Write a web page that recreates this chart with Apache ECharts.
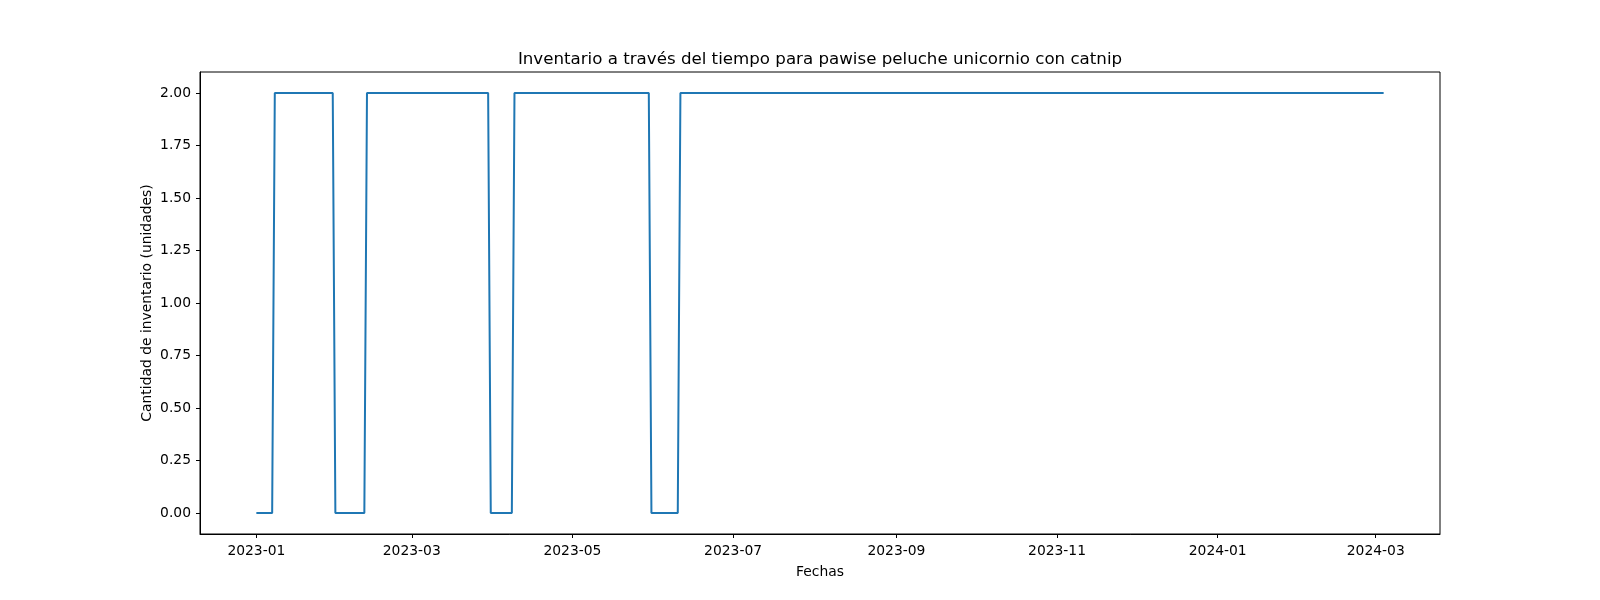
<!DOCTYPE html>
<html>
<head>
<meta charset="utf-8">
<script src="https://cdn.jsdelivr.net/npm/echarts@6/dist/echarts.min.js"></script>
<style>
html,body{margin:0;padding:0;background:#fff;}
#chart{width:1600px;height:600px;}
</style>
</head>
<body>
<div id="chart"></div>
<script>
// Breakpoints of the inventory series (date, units)
var dates = ['2023-01-01','2023-01-07','2023-01-08','2023-01-30','2023-01-31','2023-02-11','2023-02-12',
             '2023-03-30','2023-03-31','2023-04-08','2023-04-09','2023-05-30','2023-05-31','2023-06-10',
             '2023-06-11','2024-03-04'];
var values = [0,0,2,2,0,0,2,2,0,0,2,2,0,0,2,2];
var xTickLabels = ['2023-01','2023-03','2023-05','2023-07','2023-09','2023-11','2024-01','2024-03'];
var yTicks = [0,0.25,0.5,0.75,1,1.25,1.5,1.75,2];

function ts(s){ var p = s.split('-').map(Number); return Date.UTC(p[0], p[1]-1, p[2] || 1); }

var seriesData = dates.map(function(d,i){ return [ts(d), values[i]]; });
var xTickVals = xTickLabels.map(function(s){ return ts(s); });
var labelMap = {};
xTickVals.forEach(function(v,i){ labelMap[v] = xTickLabels[i]; });

var t0 = seriesData[0][0], t1 = seriesData[seriesData.length-1][0];
var pad = (t1 - t0) * 0.05;

var FONT = 'DejaVu Sans';
var chart = echarts.init(document.getElementById('chart'), null, {renderer:'canvas'});
chart.setOption({
  animation: false,
  backgroundColor: '#fff',
  title: {
    text: 'Inventario a través del tiempo para pawise peluche unicornio con catnip',
    left: 820, textAlign: 'center', top: 51, padding: 0,
    textStyle: {fontFamily: FONT, fontSize: 16.67, fontWeight: 'normal', color: '#000'}
  },
  grid: {left: 200, right: 160, top: 72, bottom: 66, show: true, borderColor: '#000', borderWidth: 1, backgroundColor: 'transparent'},
  xAxis: {
    type: 'value',
    min: t0 - pad, max: t1 + pad,
    name: 'Fechas', nameLocation: 'middle', nameGap: 31,
    nameTextStyle: {fontFamily: FONT, fontSize: 13.89, color: '#000'},
    axisLine: {show: true, onZero: false, lineStyle: {color: '#000', width: 1}},
    axisTick: {show: true, length: 4, lineStyle: {color: '#000', width: 1}, customValues: xTickVals},
    axisLabel: {
      fontFamily: FONT, fontSize: 13.89, color: '#000', margin: 10,
      customValues: xTickVals,
      formatter: function(v){ return labelMap[v] !== undefined ? labelMap[v] : ''; }
    },
    splitLine: {show: false}
  },
  yAxis: {
    type: 'value',
    min: -0.1, max: 2.1,
    name: 'Cantidad de inventario (unidades)', nameLocation: 'middle', nameGap: 46,
    nameMoveOverlap: false,
    nameTextStyle: {fontFamily: FONT, fontSize: 13.89, color: '#000'},
    axisLine: {show: true, onZero: false, lineStyle: {color: '#000', width: 1}},
    axisTick: {show: true, length: 4, lineStyle: {color: '#000', width: 1}, customValues: yTicks},
    axisLabel: {
      fontFamily: FONT, fontSize: 13.89, color: '#000', margin: 9,
      customValues: yTicks,
      formatter: function(v){ return Number(v).toFixed(2); }
    },
    splitLine: {show: false}
  },
  series: [{
    type: 'line',
    data: seriesData,
    showSymbol: false,
    symbol: 'none',
    lineStyle: {color: '#1f77b4', width: 2},
    itemStyle: {color: '#1f77b4'}
  }]
});
</script>
</body>
</html>
